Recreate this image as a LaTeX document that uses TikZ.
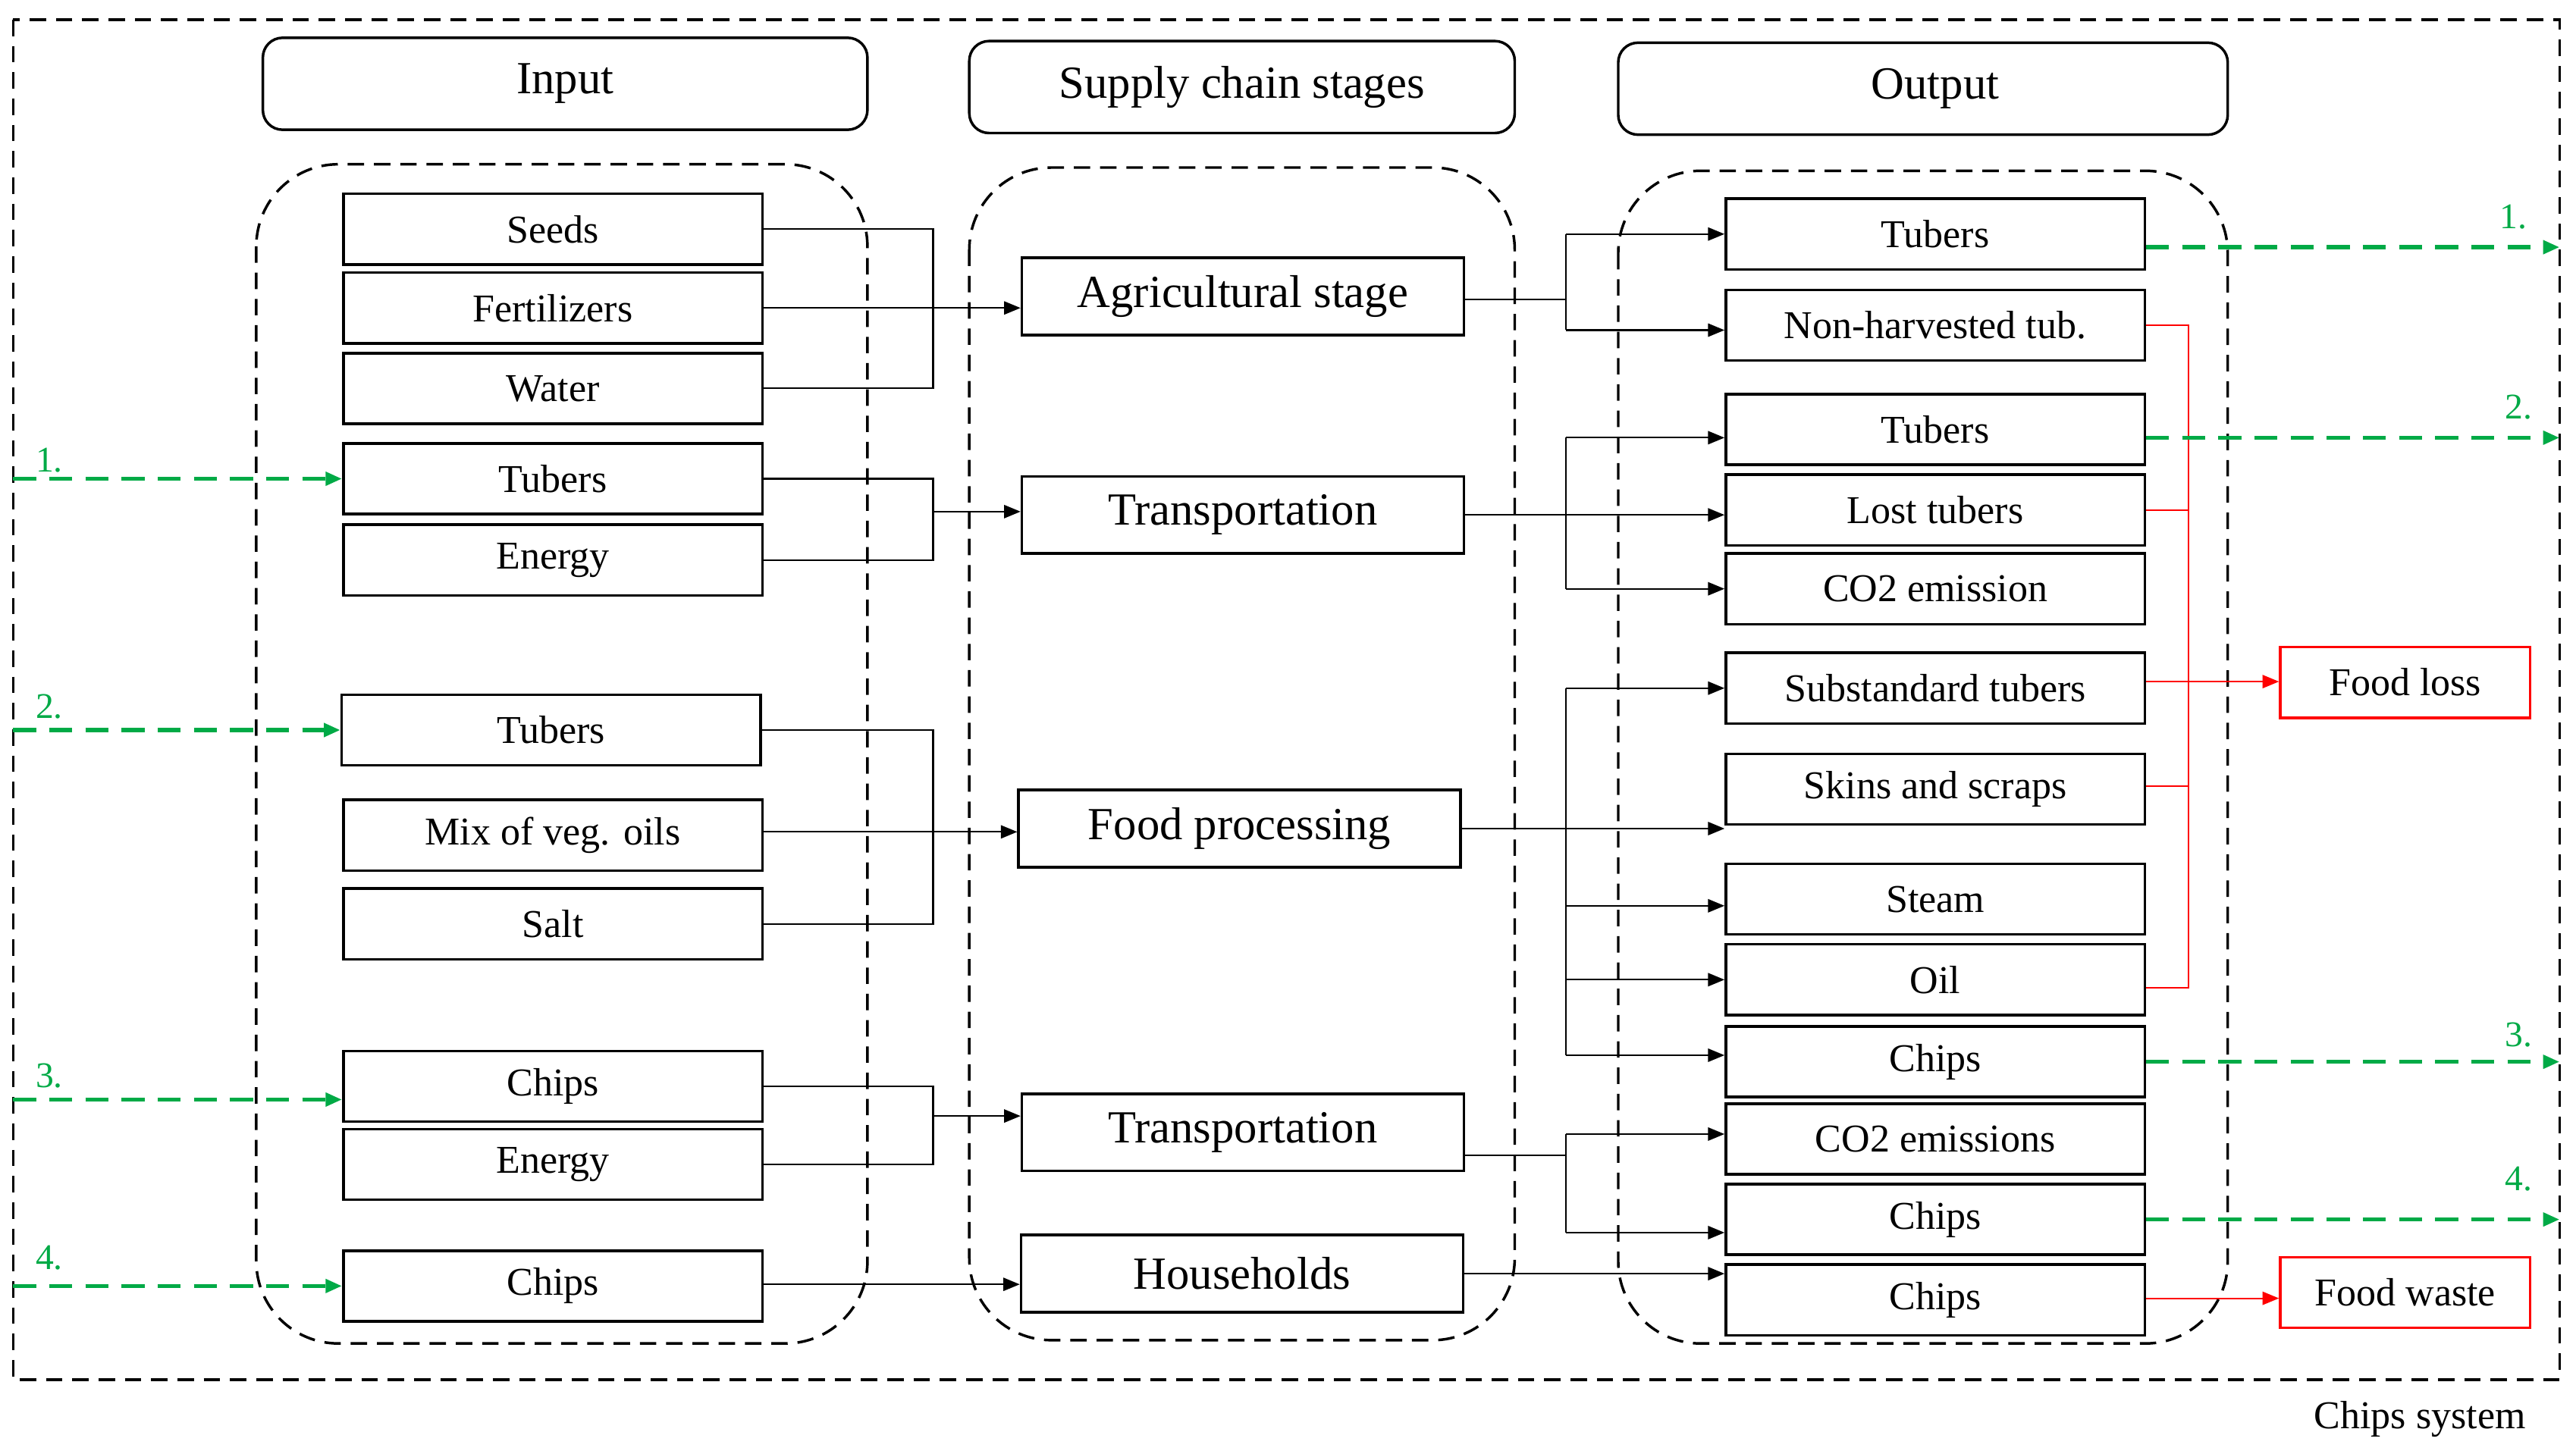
\documentclass[tikz,border=0pt]{standalone}
\usepackage{fontspec}
\setmainfont{Liberation Serif}
\usetikzlibrary{arrows.meta}
\definecolor{gr}{RGB}{0,170,70}
\begin{document}
\begin{tikzpicture}[x=0.5pt,y=-0.5pt,
 box/.style={draw,line width=0.8pt,minimum width=127.5pt,minimum height=21.5pt,inner sep=0pt,font=\fontsize{12}{13}\selectfont},
 sbox/.style={draw,line width=0.8pt,minimum width=134.5pt,minimum height=23.5pt,inner sep=0pt,font=\fontsize{14}{15}\selectfont},
 rbox/.style={draw=red,line width=0.8pt,minimum width=76pt,minimum height=21.5pt,inner sep=0pt,font=\fontsize{12}{13}\selectfont},
 hbox/.style={draw,rounded corners=6pt,line width=0.8pt,inner sep=0pt},
 hlab/.style={font=\fontsize{14}{15}\selectfont},
 grp/.style={dash pattern=on 5pt off 3pt,line width=0.8pt,rounded corners=25pt},
 ar/.style={line width=0.5pt,-{Triangle[length=5pt,width=4pt]}},
 ln/.style={line width=0.5pt},
 rar/.style={red,line width=0.5pt,-{Triangle[length=5pt,width=4pt]}},
 rln/.style={red,line width=0.5pt},
 gar/.style={gr,line width=1.3pt,dash pattern=on 7pt off 4pt,-{Triangle[length=5pt,width=4pt]}},
 glab/.style={gr,font=\fontsize{11}{12}\selectfont}]
\useasboundingbox (0,0) rectangle (1568,885);
\draw[dash pattern=on 5pt off 3pt,line width=0.8pt] (8,12) rectangle (1558,840);
\node[font=\fontsize{12}{13}\selectfont] (sys) at (1473,864) {Chips system};
% headers
\draw[hbox] (160,23) rectangle (528,79); \node[hlab] (hin) at (344,51) {Input};
\draw[hbox] (590,25) rectangle (922,81); \node[hlab] (hsc) at (756,53) {Supply chain stages};
\draw[hbox] (985,26) rectangle (1356,82); \node[hlab] (hout) at (1178,54) {Output};
% groups
\draw[grp] (156,100) rectangle (528,818);
\draw[grp] (590,102) rectangle (922,816);
\draw[grp] (985,104) rectangle (1356,818);
% input
\node[box] (seeds) at (336.5,139.5) {Seeds};
\node[box] (fert) at (336.5,187.5) {Fertilizers};
\node[box] (water) at (336.5,236.5) {Water};
\node[box] (itub1) at (336.5,291.5) {Tubers};
\node[box] (ien1) at (336.5,341) {Energy};
\node[box] (itub2) at (335.5,444.5) {Tubers};
\node[box] (mix) at (336.5,508.5) {Mix of veg. oils};
\node[box] (salt) at (336.5,562.5) {Salt};
\node[box] (ichip1) at (336.5,661.5) {Chips};
\node[box] (ien2) at (336.5,709) {Energy};
\node[box] (ichip2) at (336.5,783) {Chips};
% stages
\node[sbox] (agr) at (756.5,180.5) {Agricultural stage};
\node[sbox] (tr1) at (756.5,313.5) {Transportation};
\node[sbox] (fp) at (754.5,504.5) {Food processing};
\node[sbox] (tr2) at (756.5,689.5) {Transportation};
\node[sbox] (hh) at (756,775.5) {Households};
% outputs
\node[box] (otub1) at (1178,142.5) {Tubers};
\node[box] (nh) at (1178,198) {Non-harvested tub.};
\node[box] (otub2) at (1178,261.5) {Tubers};
\node[box] (lost) at (1178,310.5) {Lost tubers};
\node[box] (co2a) at (1178,358.5) {CO2 emission};
\node[box] (sub) at (1178,419) {Substandard tubers};
\node[box] (skin) at (1178,480.5) {Skins and scraps};
\node[box] (steam) at (1178,547.5) {Steam};
\node[box] (oil) at (1178,596.5) {Oil};
\node[box] (ochip1) at (1178,646.5) {Chips};
\node[box] (co2b) at (1178,693.5) {CO2 emissions};
\node[box] (ochip2) at (1178,742.5) {Chips};
\node[box] (ochip3) at (1178,791.5) {Chips};
\node[rbox] (floss) at (1464,415.5) {Food loss};
\node[rbox] (fwaste) at (1464,787) {Food waste};
% buses
\coordinate (bi) at (568,0);
\coordinate (bo) at (953,0);
\coordinate (br) at (1332,0);
% input -> stages
\draw[ln] (seeds.east) -- (seeds.east -| bi) -- (water.east -| bi) -- (water.east);
\draw[ar] (fert.east) -- (fert.east -| agr.west);
\draw[ln] (itub1.east) -- (itub1.east -| bi) -- (ien1.east -| bi) -- (ien1.east);
\draw[ar] ([yshift=1pt]tr1.west -| bi) -- ([yshift=1pt]tr1.west);
\draw[ln] (itub2.east) -- (itub2.east -| bi) -- (salt.east -| bi) -- (salt.east);
\draw[ar] ([yshift=1pt]mix.east) -- ([yshift=1pt]mix.east -| fp.west);
\draw[ln] (ichip1.east) -- (ichip1.east -| bi) -- (ien2.east -| bi) -- (ien2.east);
\draw[ar] ([yshift=5pt]tr2.west -| bi) -- ([yshift=5pt]tr2.west);
\draw[ar] ([yshift=0.5pt]ichip2.east) -- ([yshift=0.5pt]ichip2.east -| hh.west);
% stages -> outputs
\draw[ln] ([yshift=-1pt]agr.east) -- ([yshift=-1pt]agr.east -| bo);
\draw[ar] (otub1.west -| bo) -- (otub1.west);
\draw[ar] ([yshift=-1.5pt]nh.west -| bo) -- ([yshift=-1.5pt]nh.west);
\draw[ln] (otub1.west -| bo) -- ([yshift=-1.5pt]nh.west -| bo);
\draw[ar] (tr1.east) -- (tr1.east -| lost.west);
\draw[ar] ([yshift=-2.5pt]otub2.west -| bo) -- ([yshift=-2.5pt]otub2.west);
\draw[ar] (co2a.west -| bo) -- (co2a.west);
\draw[ln] ([yshift=-2.5pt]otub2.west -| bo) -- (co2a.west -| bo);
\draw[ar] (fp.east) -- (fp.east -| skin.west);
\draw[ar] (sub.west -| bo) -- (sub.west);
\draw[ar] ([yshift=-2pt]steam.west -| bo) -- ([yshift=-2pt]steam.west);
\draw[ar] (oil.west -| bo) -- (oil.west);
\draw[ar] ([yshift=2pt]ochip1.west -| bo) -- ([yshift=2pt]ochip1.west);
\draw[ln] (sub.west -| bo) -- ([yshift=2pt]ochip1.west -| bo);
\draw[ln] ([yshift=-7pt]tr2.east) -- ([yshift=-7pt]tr2.east -| bo);
\draw[ar] ([yshift=1.5pt]co2b.west -| bo) -- ([yshift=1.5pt]co2b.west);
\draw[ar] ([yshift=-4pt]ochip2.west -| bo) -- ([yshift=-4pt]ochip2.west);
\draw[ln] ([yshift=1.5pt]co2b.west -| bo) -- ([yshift=-4pt]ochip2.west -| bo);
\draw[ar] (hh.east) -- (hh.east -| ochip3.west);
% red
\draw[rln] (nh.east) -- (nh.east -| br) -- ([yshift=-2.5pt]oil.east -| br) -- ([yshift=-2.5pt]oil.east);
\draw[rln] (lost.east) -- (lost.east -| br);
\draw[rln] ([yshift=1pt]skin.east) -- ([yshift=1pt]skin.east -| br);
\draw[rar] ([yshift=2pt]sub.east) -- ([yshift=2pt]sub.east -| floss.west);
\draw[rar] ([yshift=0.5pt]ochip3.east) -- ([yshift=0.5pt]ochip3.east -| fwaste.west);
% green
\coordinate (gl) at (8,0);
\coordinate (gr) at (1558,0);
\draw[gar] (itub1.west -| gl) -- (itub1.west); \node[glab] (g1) at (30,280) {1.};
\draw[gar] (itub2.west -| gl) -- (itub2.west); \node[glab] (g2) at (30,430) {2.};
\draw[gar] ([yshift=-4pt]ichip1.west -| gl) -- ([yshift=-4pt]ichip1.west); \node[glab] (g3) at (30,655) {3.};
\draw[gar] (ichip2.west -| gl) -- (ichip2.west); \node[glab] (g4) at (30,766) {4.};
\draw[gar] ([yshift=-4pt]otub1.east) -- ([yshift=-4pt]otub1.east -| gr); \node[glab] (h1) at (1530,132) {1.};
\draw[gar] ([yshift=-2.5pt]otub2.east) -- ([yshift=-2.5pt]otub2.east -| gr); \node[glab] (h2) at (1533,248) {2.};
\draw[gar] (ochip1.east) -- (ochip1.east -| gr); \node[glab] (h3) at (1533,630) {3.};
\draw[gar] (ochip2.east) -- (ochip2.east -| gr); \node[glab] (h4) at (1533,718) {4.};
\end{tikzpicture}
\end{document}
